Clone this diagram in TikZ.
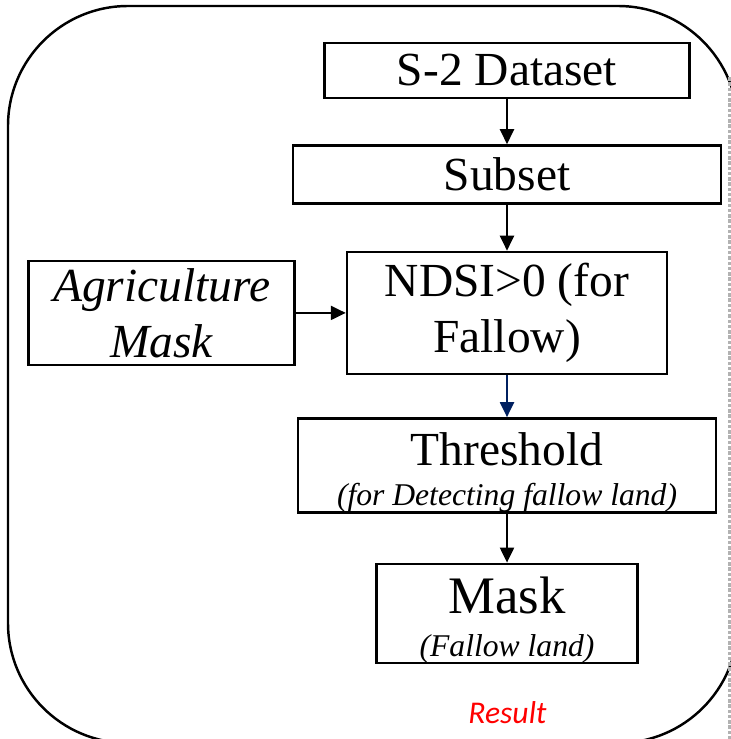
\documentclass[tikz,border=0pt]{standalone}
\usepackage{fontspec}
\setmainfont{Liberation Serif}
\newfontfamily\resultfont{Carlito}
\usepackage{xcolor}
\usepackage{tikz}
\usetikzlibrary{positioning}
\usetikzlibrary{arrows.meta}
\definecolor{arrowblue}{RGB}{0,32,96}
\tikzstyle{arrow} = [line width=1.2pt,-{Triangle[length=3mm,width=2.8mm]}]
\tikzstyle{box} = [draw=black,line width=1.4pt,rectangle,align=center,inner sep=2pt,font=\fontsize{27}{32}\selectfont]
\tikzstyle{twoline} = [text height=18pt,text depth=18pt]
\tikzstyle{note} = [anchor=base,font=\fontsize{18}{21}\selectfont\itshape]

\begin{document}
\begin{tikzpicture}
	\useasboundingbox (0,0) rectangle (14.62,-14.78);
	\clip (0,0) rectangle (14.62,-14.78);
	% frame round the whole chart
	\draw[line width=1.4pt, rounded corners=2.4cm] (0.16,-0.12) rectangle (14.76,-14.86);
	\draw[gray!60, line width=2pt, dash pattern=on 2pt off 1pt] (14.6,-1.54) -- (14.6,-14.78);
	\node[box, minimum width=7.3cm, minimum height=1.1cm]    (data)   at (10.14,-1.41)        {S-2 Dataset};
	\node[box, minimum width=8.56cm, minimum height=1.16cm]  (subset) [below=0.9cm of data]   {Subset};
	\node[box, minimum width=6.4cm, minimum height=2.44cm]   (ndsi)   [below=0.92cm of subset] {NDSI>0 (for\\Fallow)};
	\node[box, minimum width=5.32cm, minimum height=2.08cm, font=\fontsize{27}{32}\selectfont\itshape] (agri) [left=1.0cm of ndsi] {Agriculture\\Mask};
	\node[box, twoline, minimum width=8.36cm, minimum height=1.88cm] (thresh) [below=0.84cm of ndsi] {Threshold};
	\node[note] (threshnote) at ([yshift=-0.8cm]thresh.center) {(for Detecting fallow land)};
	\node[box, twoline, minimum width=5.22cm, minimum height=1.98cm, font=\fontsize{30}{34}\selectfont] (mask) [below=0.98cm of thresh] {Mask};
	\node[note] (masknote) at ([yshift=-0.86cm]mask.center) {(Fallow land)};
	\node[anchor=base, text=red, font=\resultfont\fontsize{18}{21}\selectfont\itshape] (result) at (10.15,-14.46) {Result};
	\draw[arrow] (data) -- (subset);
	\draw[arrow] (subset) -- (ndsi);
	\draw[arrow] (agri) -- (ndsi);
	\draw[arrow, arrowblue] (ndsi) -- (thresh);
	\draw[arrow] (thresh) -- (mask);
\end{tikzpicture}
\end{document}
